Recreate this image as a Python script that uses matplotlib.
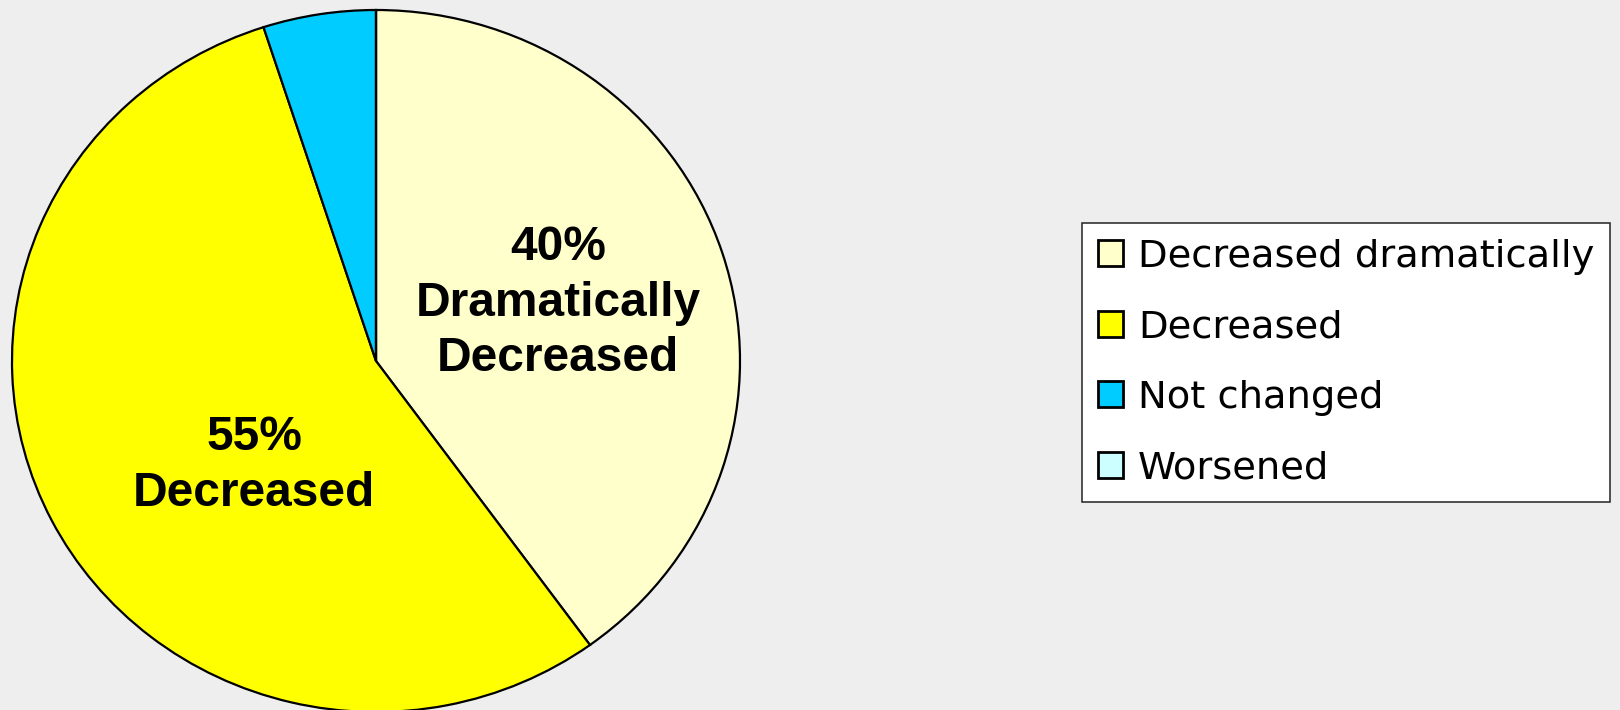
import matplotlib.pyplot as plt
from matplotlib.patches import Patch

# data
categories = ["Decreased dramatically", "Decreased", "Not changed", "Worsened"]
shares = [40, 55, 5, 0]
colors = ["#FFFFCC", "#FFFF00", "#00CCFF", "#CCFFFF"]
pie_labels = ["40%\nDramatically\nDecreased", "55%\nDecreased", "", ""]

W, H = 1620, 710
fig = plt.figure(figsize=(W / 100, H / 100), dpi=100)
fig.patch.set_facecolor("#EEEEEE")

# pie centre ~ (376, 361) px, radii ~364 x 351 px
cx, cy, rx, ry = 376, 361, 364, 351
ax = fig.add_axes([(cx - rx) / W, (H - cy - ry) / H, 2 * rx / W, 2 * ry / H])
ax.set_facecolor("none")

wedges, _ = ax.pie(shares, colors=colors, startangle=90, counterclock=False,
                   radius=1, wedgeprops=dict(edgecolor="black", linewidth=1.6))
for w in wedges:
    w.set_clip_on(False)
ax.set_xlim(-1, 1)
ax.set_ylim(-1, 1)
ax.set_aspect("auto")
ax.axis("off")

# label positions inside slices (axes data units)
label_pos = [(0.50, 0.165), (-0.335, -0.298)]
for (x, y), txt in zip(label_pos, pie_labels):
    ax.text(x, y, txt, ha="center", va="center", fontsize=34.5, fontweight="bold",
            family="Liberation Sans", linespacing=1.3)

handles = [Patch(facecolor=c, edgecolor="black", linewidth=2.0) for c in colors]
leg = fig.legend(handles, categories, loc="center",
                 bbox_to_anchor=(1084 / W, 1 - 503 / H, (1608 - 1084) / W, (503 - 222) / H),
                 prop={"family": "DejaVu Sans", "size": 27.7},
                 frameon=True, fancybox=False, framealpha=1,
                 handlelength=0.66, handleheight=0.66, handletextpad=0.38,
                 labelspacing=0.9, borderpad=0.4, borderaxespad=0)
leg.get_frame().set_edgecolor("#222222")
leg.get_frame().set_linewidth(1.1)

fig.savefig("out.png", dpi=100, facecolor=fig.get_facecolor())
